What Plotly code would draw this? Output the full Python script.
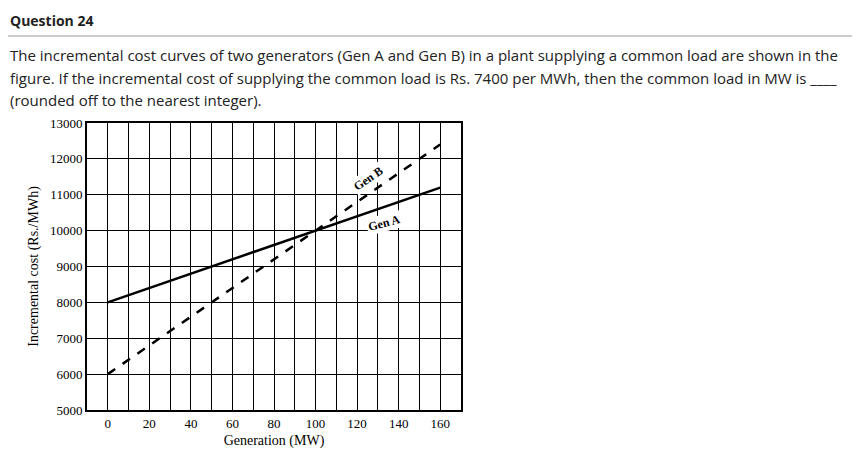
import plotly.graph_objects as go

gen_mw = [0, 160]
gen_a = [8000, 11200]
gen_b = [6000, 12400]
x_ticks = list(range(-10, 171, 10))
x_labels = [str(v) if v >= 0 and v % 20 == 0 else "" for v in x_ticks]
y_ticks = list(range(5000, 13001, 1000))
y_labels = [str(v) for v in y_ticks]

serif = "Liberation Serif"
fig = go.Figure()
fig.add_scatter(x=gen_mw, y=gen_a, mode="lines", line=dict(color="black", width=2.5), name="Gen A")
fig.add_scatter(x=gen_mw, y=gen_b, mode="lines", line=dict(color="black", width=2.5, dash="dash"), name="Gen B")

fig.add_annotation(x=125, y=11450, text="<b>Gen B</b>", showarrow=False, textangle=-35,
                   bgcolor="white", font=dict(family=serif, size=12, color="black"))
fig.add_annotation(x=133, y=10200, text="<b>Gen A</b>", showarrow=False, textangle=-15,
                   bgcolor="white", font=dict(family=serif, size=12, color="black"))

sans = "Open Sans"
fig.add_annotation(xref="paper", yref="paper", x=-79/374, y=1 + 103/287, xanchor="left", yanchor="middle",
                   text="<b>Question 24</b>", showarrow=False, font=dict(family=sans, size=14, color="#222"))
lines = [
    "The incremental cost curves of two generators (Gen A and Gen B) in a plant supplying a common load are shown in the",
    "figure. If the incremental cost of supplying the common load is Rs. 7400 per MWh, then the common load in MW is ____",
    "(rounded off to the nearest integer).",
]
for i, t in enumerate(lines):
    fig.add_annotation(xref="paper", yref="paper", x=-79/374, y=1 + (115 - 47 - 22.5 * i)/287,
                       xanchor="left", yanchor="middle", text=t, showarrow=False,
                       font=dict(family=sans, size=15, color="#222"))
fig.add_shape(type="line", xref="paper", yref="paper", x0=-79/374, x1=781/374,
              y0=1 + 87/287, y1=1 + 87/287, line=dict(color="#999", width=1))

fig.update_xaxes(range=[-10, 170], tickvals=x_ticks, ticktext=x_labels, showgrid=True, automargin=False,
                 gridcolor="black", gridwidth=1, showline=True, linecolor="black", linewidth=2, mirror=True,
                 zeroline=False, tickfont=dict(family=serif, size=13, color="black"),
                 title=dict(text="Generation (MW)", font=dict(family=serif, size=14, color="black"), standoff=6))
fig.update_yaxes(range=[5000, 13000], tickvals=y_ticks, ticktext=y_labels, showgrid=True, automargin=False,
                 gridcolor="black", gridwidth=1, showline=True, linecolor="black", linewidth=2, mirror=True,
                 zeroline=False, tickfont=dict(family=serif, size=13, color="black"),
                 title=dict(text="Incremental cost (Rs./MWh)", font=dict(family=serif, size=14, color="black"), standoff=8))
fig.update_layout(width=860, height=470, showlegend=False, plot_bgcolor="white", paper_bgcolor="white",
                  margin=dict(l=79, r=407, t=115, b=68, autoexpand=False))
fig.write_html("out.html")
